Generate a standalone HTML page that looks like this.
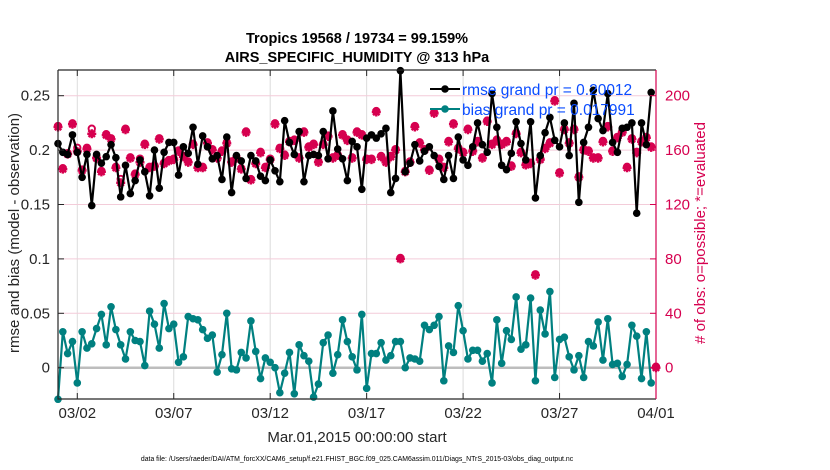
<!DOCTYPE html>
<html><head><meta charset="utf-8"><style>
body{margin:0;background:#fff;}
svg{display:block;font-family:"Liberation Sans",sans-serif;}
</style></head><body>
<svg id="chart" width="830" height="470" xmlns="http://www.w3.org/2000/svg">
<g id="grid"></g>
<g id="series"></g>
<g id="axes"></g>
<text x="357" y="43" text-anchor="middle" font-size="14.5" font-weight="bold" fill="#000">Tropics 19568 / 19734 = 99.159%</text>
<text x="357" y="62" text-anchor="middle" font-size="14.5" font-weight="bold" fill="#000">AIRS_SPECIFIC_HUMIDITY @ 313 hPa</text>
<text transform="translate(19,233) rotate(-90)" text-anchor="middle" font-size="15" fill="#262626">rmse and bias (model - observation)</text>
<text transform="translate(705,233) rotate(-90)" text-anchor="middle" font-size="15" fill="#d6004f"># of obs: o=possible; *=evaluated</text>
<text x="357" y="442" text-anchor="middle" font-size="15" fill="#262626">Mar.01,2015 00:00:00 start</text>
<text x="357" y="461" text-anchor="middle" font-size="6.9" fill="#000">data file: /Users/raeder/DAI/ATM_forcXX/CAM6_setup/f.e21.FHIST_BGC.f09_025.CAM6assim.011/Diags_NTrS_2015-03/obs_diag_output.nc</text>
<g id="legend">
<g>
<line x1="430" y1="89" x2="460" y2="89" stroke="#000" stroke-width="2"/><circle cx="445" cy="89" r="3.8" fill="#000"/>
<text x="462" y="95" font-size="15.5" fill="#0a4cff">rmse grand pr = 0.20012</text></g>
<g>
<line x1="430" y1="109" x2="460" y2="109" stroke="#008080" stroke-width="2"/><circle cx="445" cy="109" r="3.8" fill="#008080"/>
<text x="462" y="115" font-size="15.5" fill="#0a4cff">bias grand pr = 0.017991</text></g>
</g>
</svg>
<script>
const xTickLabels=["03/02","03/07","03/12","03/17","03/22","03/27","04/01"];
const xTickDays=[1,6,11,16,21,26,31];
const yTicks=[0,0.05,0.1,0.15,0.2,0.25];
const yTickLabels=["0","0.05","0.1","0.15","0.2","0.25"];
const y2Ticks=[0,40,80,120,160,200];
const rmse=[0.206,0.198,0.196,0.214,0.198,0.175,0.196,0.149,0.196,0.188,0.194,0.205,0.193,0.157,0.186,0.160,0.172,0.191,0.180,0.158,0.200,0.165,0.198,0.207,0.207,0.177,0.203,0.197,0.221,0.187,0.213,0.203,0.192,0.195,0.173,0.212,0.161,0.195,0.190,0.174,0.195,0.190,0.176,0.172,0.191,0.181,0.171,0.227,0.207,0.196,0.217,0.171,0.195,0.196,0.195,0.217,0.192,0.236,0.201,0.192,0.172,0.208,0.203,0.164,0.211,0.214,0.211,0.215,0.220,0.161,0.174,0.273,
0.180,0.188,0.205,0.190,0.199,0.203,0.195,0.185,0.173,0.195,
0.174,0.212,0.191,0.186,0.203,0.225,0.205,0.198,0.252,0.221,0.186,0.182,0.197,0.226,0.206,0.191,0.226,0.156,0.195,0.216,0.230,0.209,0.203,0.225,0.195,0.243,0.152,0.207,0.221,0.255,0.229,0.218,0.252,0.207,0.198,0.220,0.221,0.225,0.142,0.225,0.205,0.253];
const bias=[-0.029,0.033,0.013,0.024,-0.014,0.033,0.018,0.022,0.036,0.049,0.021,0.056,0.035,0.021,0.008,0.033,0.025,0.024,0.002,0.052,0.040,0.018,0.059,0.036,0.040,0.005,0.010,0.047,0.045,0.044,0.035,0.027,0.030,-0.004,0.012,0.050,-0.001,-0.002,0.014,0.009,0.043,0.015,-0.010,0.009,0.005,0.000,-0.023,-0.005,0.014,-0.024,0.021,0.011,0.006,-0.027,-0.015,0.023,0.030,-0.005,0.012,0.044,0.024,0.010,-0.002,0.049,-0.019,0.013,0.013,0.023,0.007,0.011,0.024,0.024,0.000,0.009,0.008,0.006,
0.039,0.035,0.039,0.047,-0.012,0.020,0.014,0.057,0.034,0.008,0.016,0.016,0.006,0.013,-0.014,0.044,0.004,0.034,0.026,0.065,0.017,0.021,0.064,-0.012,0.053,0.031,0.070,-0.009,0.026,0.028,0.010,-0.002,0.011,-0.009,0.024,0.020,0.042,0.007,0.045,0.003,0.004,-0.008,0.003,0.039,0.029,-0.010,0.033,-0.014];
const nPossible=[177,146,157,179,161,145,161,175,154,144,171,168,147,138,175,154,142,153,164,147,148,168,150,152,153,159,155,151,164,147,147,165,160,154,159,165,151,154,146,173,138,150,158,147,153,179,161,156,166,167,154,173,162,164,151,164,170,154,156,171,167,154,173,171,153,153,188,155,151,155,160,80,144,151,177,165,160,145,187,153,147,166,179,161,158,175,159,166,154,181,164,167,164,166,148,172,158,149,150,68,153,161,165,196,143,175,165,175,140,160,159,154,154,166,177,159,169,173,147,168,158,166,169,162,0];
const nEvaluated=[177,146,157,179,159,145,161,172,154,144,171,168,147,136,175,154,142,151,164,147,148,168,150,152,153,159,155,151,164,147,147,165,160,154,159,165,151,154,146,173,138,150,158,147,153,179,161,156,166,167,154,173,162,164,151,164,170,154,156,171,167,154,173,171,153,153,188,155,151,155,160,80,144,151,177,165,160,145,187,153,147,166,179,161,158,175,159,166,154,181,164,167,164,166,148,172,158,149,150,68,153,161,165,196,143,175,165,175,140,160,159,154,154,166,177,159,169,173,147,168,158,166,169,162,0];

const L=58,R=656,T=70,B=399;
const NS="http://www.w3.org/2000/svg";
function xs(day){return L+(day/31)*(R-L);}
function ys(v){return 367.7-v*1088;}
function y2s(n){return 367.7-n*1.36;}
function dayOf(i){return i*0.25;}
function mk(tag,attrs,parent){const e=document.createElementNS(NS,tag);for(const k in attrs)e.setAttribute(k,attrs[k]);parent.appendChild(e);return e;}
const grid=document.getElementById('grid'),series=document.getElementById('series'),axes=document.getElementById('axes');

xTickDays.forEach((d,i)=>{
  const g=mk('line',{x1:xs(d),x2:xs(d),y1:T,y2:B,stroke:'#dcdcdc','stroke-width':1},grid);
  
  
  const t=mk('text',{x:xs(d),y:418,'text-anchor':'middle','font-size':15,fill:'#262626'},axes);
  t.textContent=xTickLabels[i];
  
  
  const tk=mk('line',{x1:xs(d),x2:xs(d),y1:B,y2:B-6,stroke:'#262626'},axes);
  
  
  const tk2=mk('line',{x1:xs(d),x2:xs(d),y1:T,y2:T+6,stroke:'#262626'},axes);
  
  
});
yTicks.forEach((v,i)=>{
  if(v!==0){const g=mk('line',{x1:L,x2:R,y1:ys(v),y2:ys(v),stroke:'#f3ccd9','stroke-width':1},grid);
  
  }
  const t=mk('text',{x:50,y:ys(v)+5,'text-anchor':'end','font-size':15,fill:'#262626'},axes);
  t.textContent=yTickLabels[i];
  
  
  const tk=mk('line',{x1:L,x2:L+6,y1:ys(v),y2:ys(v),stroke:'#262626'},axes);
  
  
});
y2Ticks.forEach(n=>{
  const t=mk('text',{x:665,y:y2s(n)+5,'font-size':15,fill:'#d6004f'},axes);
  t.textContent=String(n);
  
  
  const tk=mk('line',{x1:R-6,x2:R,y1:y2s(n),y2:y2s(n),stroke:'#d6004f'},axes);
  
  
});
const zl=mk('line',{x1:L,x2:R,y1:ys(0),y2:ys(0),stroke:'#bdbdbd','stroke-width':2.5},grid);



const cg=mk('g',{},series);


nEvaluated.forEach((n,i)=>{
  const x=xs(dayOf(i)),y=y2s(n),s=4.5;
  const st=mk('path',{d:`M${x-s} ${y}H${x+s}M${x} ${y-s}V${y+s}M${x-3.2} ${y-3.2}L${x+3.2} ${y+3.2}M${x-3.2} ${y+3.2}L${x+3.2} ${y-3.2}`,stroke:'#d6004f','stroke-width':2.4},cg);
  
  
});
nPossible.forEach((n,i)=>{
  const c=mk('circle',{cx:xs(dayOf(i)),cy:y2s(n)-1,r:3.2,fill:'none',stroke:'#d6004f','stroke-width':1.9},cg);
  
  
});

function drawLine(vals,color,name){
  const g=mk('g',{},series);
  
  
  const p=mk('polyline',{points:vals.map((v,i)=>xs(dayOf(i))+','+ys(v)).join(' '),fill:'none',stroke:color,'stroke-width':2.2,'stroke-linejoin':'round'},g);
  
  
  vals.forEach((v,i)=>{
    const c=mk('circle',{cx:xs(dayOf(i)),cy:ys(v),r:3.8,fill:color},g);
    
    
  });
}
drawLine(rmse,'#000','rmse');
drawLine(bias,'#008080','bias');

const ax=mk('path',{d:`M${L} ${T}H${R}M${L} ${T}V${B}H${R}`,fill:'none',stroke:'#262626','stroke-width':1.2},axes);


const ra=mk('line',{x1:R,x2:R,y1:T,y2:B,stroke:'#d6004f','stroke-width':1.2},axes);


document.getElementById('chart').appendChild(document.getElementById('legend'));
</script>
</body></html>
